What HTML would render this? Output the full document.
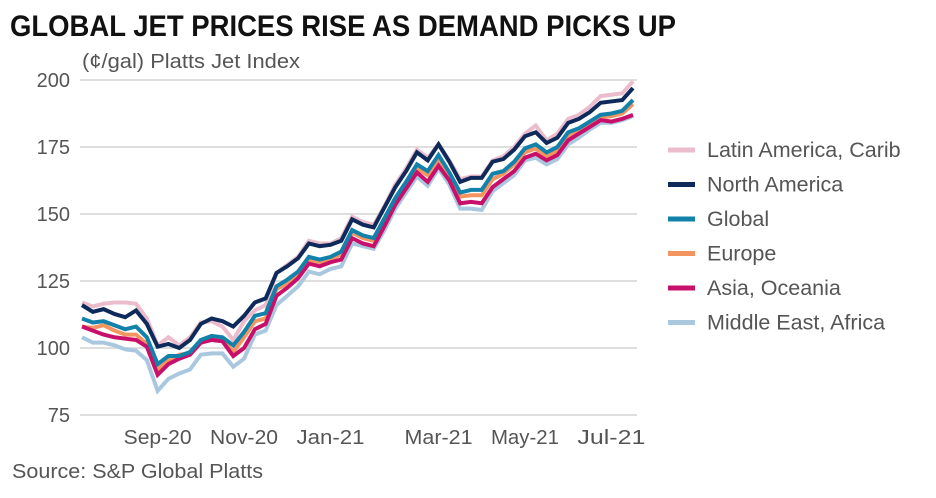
<!DOCTYPE html>
<html><head><meta charset="utf-8"><style>
html,body{margin:0;padding:0;background:#fff;}
svg{display:block;font-family:"Liberation Sans",sans-serif;}
</style></head><body>
<svg id="chart" width="936" height="498" viewBox="0 0 936 498">
<text x="10" y="36" font-size="30" font-weight="bold" fill="#111" textLength="666" lengthAdjust="spacingAndGlyphs">GLOBAL JET PRICES RISE AS DEMAND PICKS UP</text>
<text x="82" y="68" font-size="20" fill="#555" textLength="218" lengthAdjust="spacingAndGlyphs">(¢/gal) Platts Jet Index</text>
<text x="12" y="478" font-size="20" fill="#555" textLength="251" lengthAdjust="spacingAndGlyphs">Source: S&amp;P Global Platts</text>
<g id="grid"></g><g id="ylabels"></g><g id="xlabels"></g><g id="lines"></g><g id="legend"></g>
</svg>
<script>
const yTicks=[75,100,125,150,175,200];
const xTickLabels=["Sep-20","Nov-20","Jan-21","Mar-21","May-21","Jul-21"];
const xTickIndex=[7,15,23,33,41,49];
const seriesNames=["Latin America, Carib","Middle East, Africa","Europe","Asia, Oceania","Global","North America"];
const legendWidths=[200,0,70,0,0,0];
const latin=[117,115.5,116.5,117,117,116.5,111,101,104,101,104,109.5,110,108,103,110,114,116,128,131,134,140,139,139,141,149,147,146,153,161,167,174,171,176,170,163,164,164,170,171.5,175,180,183,177.5,180,185.5,187,190,194,194.5,195,199.5];
const middleEast=[104,102,102,101,99.5,99,95.5,84,88.5,90.5,92,97.5,98,98,93,96,105,106.5,116,119.5,123,128.5,127.5,129.5,130.5,139,138,137,144,152,158,164,160.5,167,161,152,152,151.5,158.5,161.5,164.5,170,171,168.5,170.5,176,178.5,181.5,184,184,185,186.5];
const europe=[108,107.5,108.5,106.5,105,105,101.5,92,95.5,97.5,98,102.5,103.5,103,98.5,104,110,111,122,124,127,133,132,133,135,143,141,140,147,155,161,167,164.5,170.5,164,156.5,157,157,163,165,168.5,173,174.5,171.5,173.5,179,181,183,186,186.5,187.5,191];
const asia=[108,106.5,105,104,103.5,103,100.5,90,94,96,97.5,102,103,102.5,97,100,107,109,119.5,122.5,126,131.5,130.5,132,133,141,139,138,145.5,153.5,159.5,165.5,162,168,162.5,154,154.5,154,160,163,166,171,172.5,170,172,177.5,180,182.5,185,184.5,185.5,187];
const globalS=[111,109.5,110,108.5,107,108,104,94,97,97,98.5,103,104.5,104,101,106,112,113,123,125.5,128.5,134,133,134,136,144,142,141,148.5,156,162,168.5,166,172,165.5,158,159,159,165,166,169.5,174.5,176,173,175,180.5,182,184.5,187,187.5,188.5,192.5];
const northAmerica=[116,113.5,114.5,112.7,111.5,114,109,100.5,101.5,100,103,109,111,110,108,112,117,118.5,128,130.5,133.5,139,138,138.5,140,148,146,145,152.5,160,166,173,170,176,169.5,162,163.5,163.5,169.5,170.5,174,179,180.5,176.5,178.5,184,185.5,188,191.5,192,192.5,197];
const seriesData=[latin,middleEast,europe,asia,globalS,northAmerica];
const colors=["#ebbccc","#a9c8e0","#f4955f","#c8106a","#1282aa","#0e2a5a"];
const legendOrder=[0,5,4,2,3,1];
const NS="http://www.w3.org/2000/svg";
const X0=82,X1=633,N=northAmerica.length;
function xs(i){return X0+i*(X1-X0)/(N-1);}
function ys(v){return 348-(v-100)*2.68;}
function mk(t,a,p){const e=document.createElementNS(NS,t);for(const k in a)e.setAttribute(k,a[k]);p.appendChild(e);return e;}
const grid=document.getElementById('grid'),yl=document.getElementById('ylabels'),xl=document.getElementById('xlabels'),lg=document.getElementById('lines'),leg=document.getElementById('legend');
yTicks.forEach(v=>{
 const l=mk('line',{x1:80,x2:637,y1:ys(v),y2:ys(v),stroke:'#dedede','stroke-width':2},grid);
 
 
 const t=mk('text',{x:70,y:ys(v)+7,'text-anchor':'end','font-size':20,fill:'#555'},yl);
 t.textContent=v;
 
 
});
xTickLabels.forEach((s,k)=>{
 const t=mk('text',{x:xs(xTickIndex[k]),y:444,'text-anchor':'middle','font-size':20,fill:'#555',textLength:68,lengthAdjust:'spacingAndGlyphs'},xl);
 t.textContent=s;
 
 
});
seriesData.forEach((d,s)=>{
 const p=mk('polyline',{points:d.map((v,i)=>xs(i)+','+ys(v)).join(' '),fill:'none',stroke:colors[s],'stroke-width':4,'stroke-linejoin':'miter'},lg);
 
 
});
legendOrder.forEach((s,r)=>{
 const y=150+r*34.5;
 const g=mk('g',{},leg);
 
 
 mk('line',{x1:668,x2:695,y1:y,y2:y,stroke:colors[s],'stroke-width':5},g);
 const t=mk('text',{x:707,y:y+7,'font-size':21.5,fill:'#555'},g);
 t.textContent=seriesNames[s];
});
</script>
</body></html>
